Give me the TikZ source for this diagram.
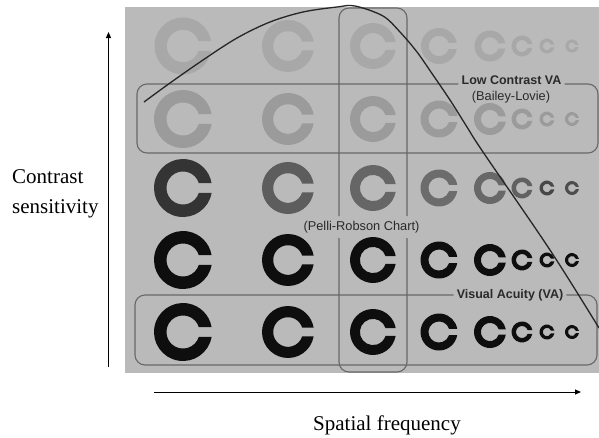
\documentclass[tikz,border=0pt]{standalone}
\usepackage{fontspec}
\setmainfont{Liberation Serif}
\newfontfamily\chartsans{Liberation Sans}
\usetikzlibrary{arrows.meta,calc}

\definecolor{photobg}{HTML}{BABABA}
\definecolor{rowone}{HTML}{A8A8A8}
\definecolor{rowtwo}{HTML}{9B9B9B}
\definecolor{inkdark}{HTML}{0E0E0E}
\definecolor{boxline}{HTML}{686868}
\definecolor{printtext}{HTML}{2A2A2A}

% Landolt-style ring: centre x, centre y, outer radius, fill colour
\newcommand\ringC[4]{%
  \pgfmathsetmacro\ringOut{#3}%
  \pgfmathsetmacro\ringIn{0.57*#3}%
  \pgfmathsetmacro\ringAo{asin(0.17*#3/\ringOut)}%
  \pgfmathsetmacro\ringAi{asin(0.17*#3/\ringIn)}%
  \pgfmathsetmacro\ringAoE{360-\ringAo}%
  \pgfmathsetmacro\ringAiE{\ringAi-360}%
  \fill[#4] ($(#1,#2)+(\ringAo:\ringOut)$)
     arc[start angle=\ringAo, end angle=\ringAoE, radius=\ringOut]
     -- ($(#1,#2)+(-\ringAi:\ringIn)$)
     arc[start angle=-\ringAi, end angle=\ringAiE, radius=\ringIn]
     -- cycle;
}

\begin{document}
\begin{tikzpicture}[x=1pt,y=-1pt,
  axis/.style={line width=1pt, black, -{Triangle[length=6pt,width=5pt]}},
  axislabel/.style={inner sep=0pt, font=\fontsize{21}{30}\selectfont},
  chartbox/.style={boxline, line width=1.1pt, rounded corners=10pt},
  boldlabel/.style={inner sep=0pt, text=printtext, font=\chartsans\bfseries\fontsize{12.5}{14}\selectfont},
  plainlabel/.style={inner sep=0pt, text=printtext, font=\chartsans\fontsize{12.8}{14}\selectfont},
  csf/.style={line width=1.3pt, black!85}]

\useasboundingbox (0,0) rectangle (599,437);

% printed chart background
\fill[photobg] (125,7) rectangle (599,373);

% row 1: very low contrast
\foreach \cx/\cr in {183/28.5,288/26,373/23,439/18,490/15.5,522/10.5,547/7.5,572/6.5}
  {\ringC{\cx}{46}{\cr}{rowone}}
% row 2: low contrast
\foreach \cx/\cr in {183/29,288/26,373/23,439/18.5,490/16,522/10.5,547/7.5,572/7}
  {\ringC{\cx}{119}{\cr}{rowtwo}}
% row 3: graded grey
\foreach \cx/\cr/\cg in {183/29/72,288/26/50,373/23/45,439/18.5/42,490/16/44,522/10.5/48,547/7.5/62,572/7/58}
  {\ringC{\cx}{188}{\cr}{black!\cg!photobg}}
% rows 4 and 5: full contrast
\foreach \cx/\cr in {183/29,288/26,373/23,439/18.5,490/16,522/10.5,547/7.5,572/7}
  {\ringC{\cx}{260}{\cr}{inkdark}
   \ringC{\cx}{332}{\cr}{inkdark}}

% labels printed on the chart
\node[boldlabel] (lcva) at (511.5,80) {Low Contrast VA};
\node[plainlabel] (bailey) at (511,97) {(Bailey-Lovie)};
\node[plainlabel] (pelli) at (361.5,227) {(Pelli-Robson Chart)};
\node[boldlabel] (va) at (510,295) {Visual Acuity (VA)};

% chart outlines, broken where the labels sit
\draw[chartbox] ([xshift=3pt]lcva.east |- 0,84) -- (598,84) -- (598,153) -- (137,153) -- (137,84) -- ([xshift=-3pt]lcva.west |- 0,84);
\draw[chartbox] ([xshift=3pt]va.east |- 0,295) -- (597,295) -- (597,365) -- (135,365) -- (135,295) -- ([xshift=-3pt]va.west |- 0,295);
\draw[chartbox] (339,216) -- (339,8) -- (407,8) -- (407,216);
\draw[chartbox] (339,238) -- (339,372) -- (407,372) -- (407,238);

% contrast sensitivity function
\draw[csf] plot[smooth, tension=0.55] coordinates {
  (144,102) (170,83) (203,60) (237,38) (270,22) (303,12) (337,7) (355,6)
  (383,16) (400,32) (417,52) (433,75) (450,100) (467,127) (483,152)
  (550,250) (599,328)};

% axes
\coordinate (ybot) at (108.5,367);
\coordinate (ytop) at (108.5,32);
\coordinate (xleft) at (154,392);
\coordinate (xright) at (581,392);
\draw[axis] (ybot) -- (ytop);
\draw[axis] (xleft) -- (xright);

\node[axislabel, anchor=base west] (cs1) at (12,183) {Contrast};
\node[axislabel, anchor=base west] (cs2) at (12,213) {sensitivity};
\node[axislabel, anchor=base] (sf) at (387,430) {Spatial frequency};
\end{tikzpicture}
\end{document}
